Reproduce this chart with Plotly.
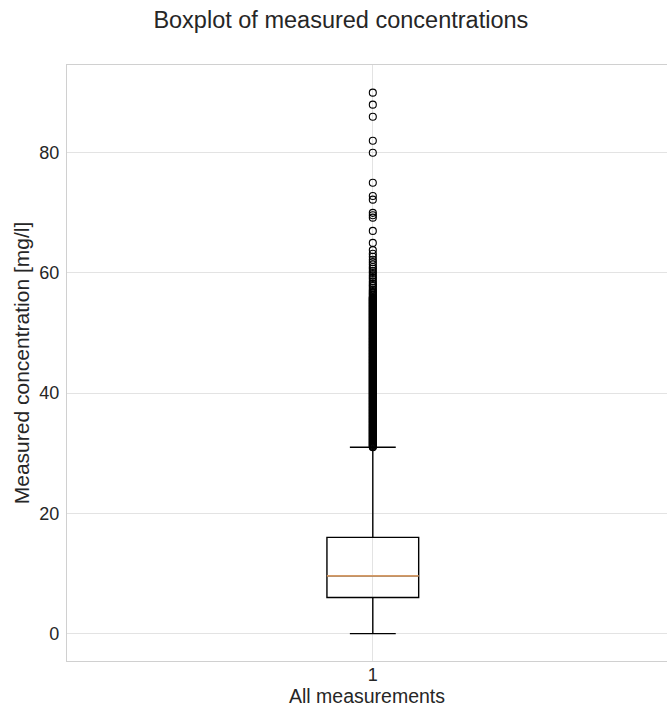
import plotly.graph_objects as go

# ---- data ----
CATEGORY_POS = [1]
Q1 = [6.0]
MEDIAN = [9.6]
Q3 = [16.0]
LOWER_FENCE = [0.0]
UPPER_FENCE = [31.0]
OUTLIERS = [
    31.0, 31.1, 31.2, 31.3, 31.4, 31.5, 31.6, 31.7, 31.8, 31.9,
    32.0, 32.1, 32.2, 32.3, 32.4, 32.5, 32.6, 32.7, 32.8, 32.9,
    33.0, 33.1, 33.2, 33.3, 33.4, 33.5, 33.6, 33.7, 33.8, 33.9,
    34.0, 34.1, 34.2, 34.3, 34.4, 34.5, 34.6, 34.7, 34.8, 34.9,
    35.0, 35.1, 35.2, 35.3, 35.4, 35.5, 35.6, 35.7, 35.8, 35.9,
    36.0, 36.1, 36.2, 36.3, 36.4, 36.5, 36.6, 36.7, 36.8, 36.9,
    37.0, 37.1, 37.2, 37.3, 37.4, 37.5, 37.6, 37.7, 37.8, 37.9,
    38.0, 38.1, 38.2, 38.3, 38.4, 38.5, 38.6, 38.7, 38.8, 38.9,
    39.0, 39.1, 39.2, 39.3, 39.4, 39.5, 39.6, 39.7, 39.8, 39.9,
    40.0, 40.1, 40.2, 40.3, 40.4, 40.5, 40.6, 40.7, 40.8, 40.9,
    41.0, 41.1, 41.2, 41.3, 41.4, 41.5, 41.6, 41.7, 41.8, 41.9,
    42.0, 42.1, 42.2, 42.3, 42.4, 42.5, 42.6, 42.7, 42.8, 42.9,
    43.0, 43.1, 43.2, 43.3, 43.4, 43.5, 43.6, 43.7, 43.8, 43.9,
    44.0, 44.1, 44.2, 44.3, 44.4, 44.5, 44.6, 44.7, 44.8, 44.9,
    45.0, 45.1, 45.2, 45.3, 45.4, 45.5, 45.6, 45.7, 45.8, 45.9,
    46.0, 46.1, 46.2, 46.3, 46.4, 46.5, 46.6, 46.7, 46.8, 46.9,
    47.0, 47.1, 47.2, 47.3, 47.4, 47.5, 47.6, 47.7, 47.8, 47.9,
    48.0, 48.1, 48.2, 48.3, 48.4, 48.5, 48.6, 48.7, 48.8, 48.9,
    49.0, 49.1, 49.2, 49.3, 49.4, 49.5, 49.6, 49.7, 49.8, 49.9,
    50.0, 50.1, 50.2, 50.3, 50.4, 50.5, 50.6, 50.7, 50.8, 50.9,
    51.0, 51.1, 51.2, 51.3, 51.4, 51.5, 51.6, 51.7, 51.8, 51.9,
    52.0, 52.1, 52.2, 52.3, 52.4, 52.5, 52.6, 52.7, 52.8, 52.9,
    53.0, 53.1, 53.2, 53.3, 53.4, 53.5, 53.6, 53.7, 53.8, 53.9,
    54.0, 54.1, 54.2, 54.3, 54.4, 54.5, 54.6, 54.7, 54.8, 54.9,
    55.0, 55.1, 55.2, 55.3, 55.4, 55.5, 55.6, 55.7, 55.8, 55.9,
    56.0, 56.2, 56.4, 56.6, 56.8, 57.0, 57.2, 57.5, 57.8, 58.0,
    58.3, 58.6, 59.0, 59.3, 59.6, 60.0, 60.3, 60.7, 61.0, 61.4,
    61.8, 62.2, 62.7, 63.2, 63.8, 65.0, 67.0, 69.2, 69.6, 70.0,
    72.2, 72.8, 75.0, 80.0, 82.0, 86.0, 88.0, 90.0,
]
TICK_VALS_X = [1]
TICK_TEXT_X = ["1"]
TICK_VALS_Y = [0, 20, 40, 60, 80]

TITLE = "Boxplot of measured concentrations"
X_LABEL = "All measurements"
Y_LABEL = "Measured concentration [mg/l]"

BOX_WIDTH = 0.15
FONT = "Liberation Sans, Arial, sans-serif"
TEXT_COLOR = "#262626"
GRID_COLOR = "#e3e3e3"
FRAME_COLOR = "#d0d0d0"

fig = go.Figure()

# main box (black)
fig.add_trace(go.Box(
    x=CATEGORY_POS, q1=Q1, median=MEDIAN, q3=Q3,
    lowerfence=LOWER_FENCE, upperfence=UPPER_FENCE,
    width=BOX_WIDTH, whiskerwidth=0.5, boxpoints=False,
    fillcolor="rgba(0,0,0,0)", line=dict(color="black", width=1.4),
    showlegend=False, hoverinfo="skip",
))

# orange median line drawn as a degenerate box at the median
fig.add_trace(go.Box(
    x=CATEGORY_POS, q1=MEDIAN, median=MEDIAN, q3=MEDIAN,
    lowerfence=MEDIAN, upperfence=MEDIAN,
    width=BOX_WIDTH, whiskerwidth=0, boxpoints=False,
    fillcolor="rgba(0,0,0,0)", line=dict(color="#d49a66", width=1.6),
    showlegend=False, hoverinfo="skip",
))

# outliers
fig.add_trace(go.Scatter(
    x=CATEGORY_POS * len(OUTLIERS), y=OUTLIERS, mode="markers",
    marker=dict(symbol="circle-open", size=7, color="black",
                line=dict(width=1.1, color="black")),
    showlegend=False, hoverinfo="skip",
))

fig.update_layout(
    width=667, height=709,
    margin=dict(l=67, r=0, t=65, b=48),
    paper_bgcolor="white", plot_bgcolor="white",
    boxmode="overlay",
    font=dict(family=FONT, color=TEXT_COLOR, size=18),
    title=dict(text=TITLE, x=0.511, xref="container", xanchor="center",
               y=1 - 20 / 709, yref="container", yanchor="middle",
               font=dict(size=23.5, color=TEXT_COLOR, family=FONT)),
)

fig.update_xaxes(
    range=[0.5, 1.481], tickvals=TICK_VALS_X, ticktext=TICK_TEXT_X,
    showgrid=True, gridcolor=GRID_COLOR, gridwidth=1,
    showline=True, mirror=True, linecolor=FRAME_COLOR, linewidth=1.2,
    zeroline=False, ticks="", tickfont=dict(size=18),
    ticklabelstandoff=-3,
    title=dict(text=X_LABEL, font=dict(size=19.5), standoff=2),
)
fig.update_yaxes(
    range=[-4.56, 94.6], tickvals=TICK_VALS_Y,
    showgrid=True, gridcolor=GRID_COLOR, gridwidth=1,
    showline=True, mirror=False, linecolor=FRAME_COLOR, linewidth=1.2,
    zeroline=False, ticks="outside", ticklen=3, tickcolor="rgba(0,0,0,0)",
    tickfont=dict(size=18),
    title=dict(text=Y_LABEL, font=dict(size=21), standoff=3),
)

fig.write_html("out.html")
